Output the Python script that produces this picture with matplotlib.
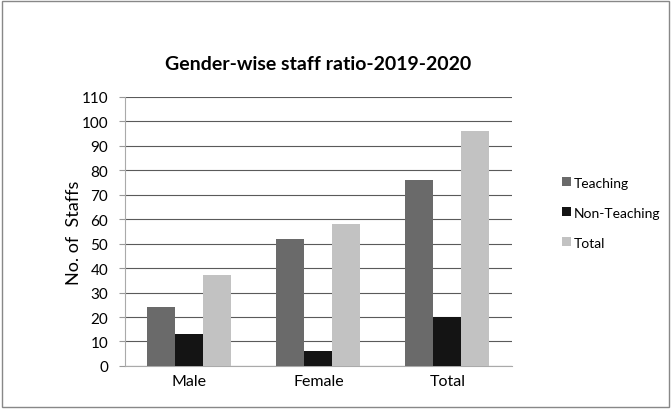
import numpy as np
import matplotlib.pyplot as plt
from matplotlib.patches import Rectangle

categories = ["Male", "Female", "Total"]
teaching = [24, 52, 76]
non_teaching = [13, 6, 20]
total = [37, 58, 96]
series_names = ["Teaching", "Non-Teaching", "Total"]
colors = ["#6a6a6a", "#141414", "#c2c2c2"]

plt.rcParams['font.family'] = ['Lato', 'DejaVu Sans']

fig = plt.figure(figsize=(6.71, 4.10), dpi=100)
ax = fig.add_axes([0.186, 0.105, 0.577, 0.656])

x = np.arange(len(categories))
w = 0.217
for i, (vals, name, c) in enumerate(zip([teaching, non_teaching, total], series_names, colors)):
    ax.bar(x + (i - 1) * w, vals, width=w, color=c, label=name, zorder=3)

ax.set_xlim(-0.5, 2.5)
ax.set_ylim(0, 110)
ax.set_yticks(range(0, 111, 10))
ax.set_xticks(x)
ax.set_xticklabels(categories)
ax.tick_params(axis='y', labelsize=11, length=4, color='#999999', pad=8)
ax.tick_params(axis='x', labelsize=11.5, length=0, pad=6)
ax.grid(axis='y', color='#5a5a5a', linewidth=0.8, zorder=0)
for s in ['top', 'right']:
    ax.spines[s].set_visible(False)
ax.spines['left'].set_color('#aaaaaa')
ax.spines['bottom'].set_color('#aaaaaa')

ax.set_ylabel("No. of  Staffs", fontsize=13, labelpad=0)
ax.set_title("Gender-wise staff ratio-2019-2020", fontsize=14, fontweight='bold', pad=20)

ax.legend(loc='center left', bbox_to_anchor=(1.105, 0.57), frameon=False,
          fontsize=10, handlelength=0.6, handleheight=0.6, handletextpad=0.25,
          labelspacing=1.3, borderpad=0.2)

fig.patches.append(Rectangle((0.003, 0.005), 0.994, 0.99, transform=fig.transFigure,
                             fill=False, edgecolor='#888888', linewidth=1))

fig.savefig("out.png", dpi=100)
